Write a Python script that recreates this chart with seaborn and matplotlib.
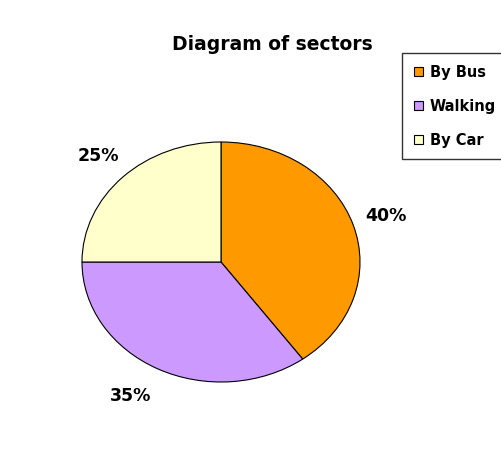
import matplotlib
matplotlib.use("Agg")
import matplotlib.pyplot as plt
import seaborn as sns

# Data
categories = ["By Bus", "Walking", "By Car"]
shares = [40, 35, 25]
colors = ["#FF9900", "#CC99FF", "#FFFFCC"]

sns.set_style("white")
plt.rcParams["font.family"] = ["DejaVu Sans"]
plt.rcParams["font.weight"] = "bold"
plt.rcParams["text.color"] = "black"

fig = plt.figure(figsize=(5.02, 4.54), dpi=100)
fig.patch.set_facecolor("white")

# pie axes stretched so the pie becomes an ellipse
ax = fig.add_axes([82 / 502, 72 / 454, 278 / 502, 240 / 454])
wedges, texts = ax.pie(
    shares,
    colors=colors,
    startangle=90,
    counterclock=False,
    labels=[f"{v}%" for v in shares],
    labeldistance=1.25,
    wedgeprops=dict(edgecolor="black", linewidth=0.8),
    textprops=dict(fontsize=12.5, fontweight="bold", color="black"),
)
for t in texts:
    t.set_horizontalalignment("center")
    t.set_verticalalignment("center")
# the lower label sits a bit further left in the original
x, y = texts[1].get_position()
texts[1].set_position((x - 0.08, y))
ax.set_aspect("auto")
ax.set_xlim(-1, 1)
ax.set_ylim(-1, 1)
ax.axis("off")

fig.text(272 / 502, 1 - 44 / 454, "Diagram of sectors", ha="center", va="center",
         fontsize=13.5, fontweight="bold", color="black")

leg = fig.legend(
    wedges, categories,
    loc="upper left",
    bbox_to_anchor=(402 / 502, 1 - 53 / 454),
    frameon=True, fancybox=False, edgecolor="black",
    handlelength=0.65, handleheight=0.65, handletextpad=0.45,
    labelspacing=1.3, borderpad=0.8, borderaxespad=0,
    prop=dict(size=10.5, weight="bold"),
)
leg.get_frame().set_linewidth(1.0)
for t in leg.get_texts():
    t.set_color("black")

fig.savefig("out.png", dpi=100, facecolor="white")
